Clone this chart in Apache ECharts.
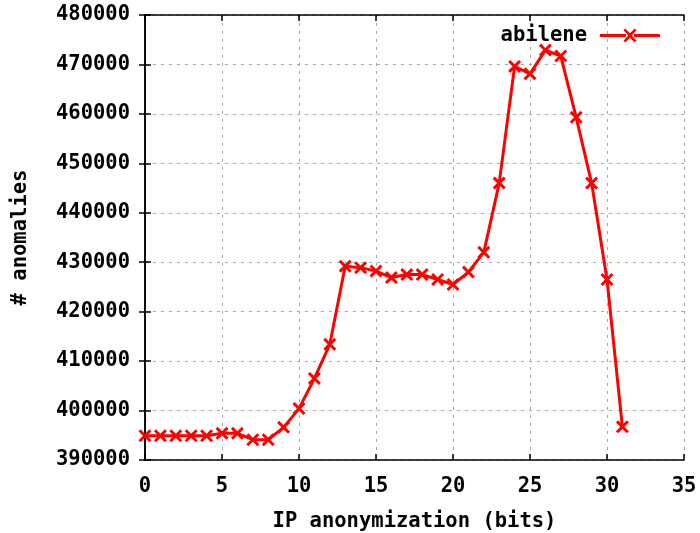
<!DOCTYPE html>
<html>
<head>
<meta charset="utf-8">
<script src="https://cdn.jsdelivr.net/npm/echarts@6/dist/echarts.min.js"></script>
<style>html,body{margin:0;padding:0;background:#fff}#c{width:700px;height:533px}</style>
</head>
<body>
<div id="c"></div>
<script>
var bits = [0,1,2,3,4,5,6,7,8,9,10,11,12,13,14,15,16,17,18,19,20,21,22,23,24,25,26,27,28,29,30,31];
var abilene = [394900,394900,394900,394900,394900,395400,395400,394100,394100,396600,400400,406500,413400,429200,428900,428200,426900,427500,427500,426500,425500,428000,432000,446000,469600,468100,472900,471700,459300,446000,426500,396700];
var seriesName = 'abilene';
var xTitle = 'IP anonymization (bits)';
var yTitle = '# anomalies';

var FONT = 'DejaVu Sans Mono';
var FS = 20.5;
var X_SYM = 'path://M0,1.6L1.6,0L5,3.4L8.4,0L10,1.6L6.6,5L10,8.4L8.4,10L5,6.6L1.6,10L0,8.4L3.4,5Z';
// legend icon: line + X marker (60 x 14 box)
var LEG_ICON = 'path://M0,5.5L26,5.5L26,8.5L0,8.5Z M34,5.5L60,5.5L60,8.5L34,8.5Z ' +
  'M23.5,1.8L25.3,0L30,4.7L34.7,0L36.5,1.8L31.8,7L36.5,12.2L34.7,14L30,9.3L25.3,14L23.5,12.2L28.2,7Z';
var data = bits.map(function(b,i){return [b, abilene[i]];});
var txt = {fontFamily: FONT, fontWeight: 'bold', fontSize: FS, color: '#000'};
var gridLine = {show: true, lineStyle: {color: '#a8a8a8', type: [3,5], width: 1}};
var axLine = {show: true, lineStyle: {color: '#000', width: 1.5}};
var tick = {show: true, inside: true, length: 6, lineStyle: {color: '#000', width: 1.5}};
var plain = function(v){ return String(v); };

var chart = echarts.init(document.getElementById('c'), null, {renderer: 'canvas'});
chart.setOption({
  animation: false,
  backgroundColor: '#fff',
  grid: {left: 145, right: 16, top: 15, bottom: 73, containLabel: false, outerBoundsMode: 'none'},
  legend: {
    right: 40, top: 25, padding: 0, align: 'right', itemWidth: 60, itemHeight: 14,
    icon: LEG_ICON,
    itemStyle: {color: '#ff0000'},
    textStyle: {fontFamily: FONT, fontWeight: 'bold', fontSize: FS, color: '#000', padding: [0, 8, 0, 0]},
    data: [seriesName]
  },
  xAxis: [{
    type: 'value', min: 0, max: 35, interval: 5,
    name: xTitle, nameLocation: 'middle', nameGap: 51, nameTextStyle: txt,
    axisLine: axLine, axisTick: tick, splitLine: gridLine,
    axisLabel: Object.assign({margin: 16, formatter: plain}, txt)
  }, {
    type: 'value', position: 'top', min: 0, max: 35, interval: 5,
    axisLine: axLine, axisTick: tick, splitLine: {show: false}, axisLabel: {show: false}
  }],
  yAxis: [{
    type: 'value', min: 390000, max: 480000, interval: 10000,
    name: yTitle, nameLocation: 'middle', nameGap: 114, nameTextStyle: txt,
    axisLine: axLine, axisTick: tick, splitLine: gridLine,
    axisLabel: Object.assign({margin: 15, formatter: plain}, txt)
  }, {
    type: 'value', position: 'right', min: 390000, max: 480000, interval: 10000,
    axisLine: axLine, axisTick: tick, splitLine: {show: false}, axisLabel: {show: false}
  }],
  series: [{
    name: seriesName, type: 'line', data: data,
    symbol: X_SYM, symbolSize: 13, showAllSymbol: true,
    lineStyle: {color: '#ff0000', width: 3},
    itemStyle: {color: '#ff0000'}
  }]
});
</script>
</body>
</html>
